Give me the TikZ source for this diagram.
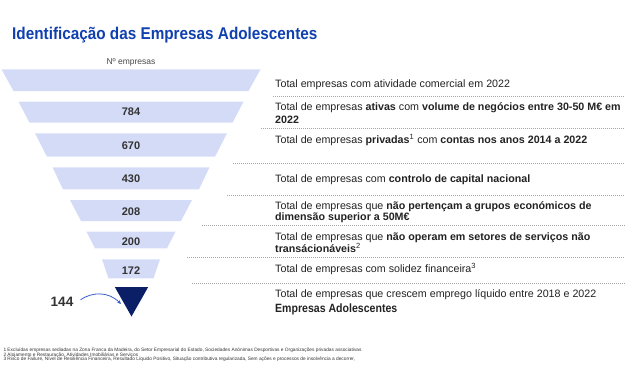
\documentclass[tikz,border=0pt]{standalone}
\usepackage{graphicx}
\usepackage{fontspec}
\setmainfont{Liberation Sans}
\usetikzlibrary{arrows.meta}
\definecolor{titleblue}{HTML}{1040B0}
\definecolor{funnelfill}{HTML}{D4DBF7}
\definecolor{navy}{HTML}{0B1F66}
\definecolor{arrowblue}{HTML}{3A5CC8}
\definecolor{bodytext}{HTML}{222222}
\definecolor{numtext}{HTML}{333333}
\tikzset{
  funnel/.style={fill=funnelfill, draw=none},
  numlabel/.style={font=\fontsize{11}{12}\selectfont\bfseries, text=numtext, inner sep=0pt},
  desc/.style={font=\fontsize{10.7}{12}\selectfont, text=bodytext, anchor=base west, inner sep=0pt},
  sep/.style={draw=gray!70, line width=0.6pt, dash pattern=on 1pt off 1pt},
  foot/.style={font=\fontsize{4.8}{5}\selectfont, text=numtext, anchor=base west, inner sep=0pt},
}
\begin{document}
\begin{tikzpicture}[x=1pt,y=-1pt]
\useasboundingbox (0,0) rectangle (643,370);
% title
\node[anchor=base west, inner sep=0pt, text=titleblue, font=\fontsize{17}{18}\selectfont\bfseries] (title) at (12,39) {\scalebox{0.9}[1]{Identificação das Empresas Adolescentes}};
\node[inner sep=0pt, text=numtext!90, font=\fontsize{8.5}{9}\selectfont] (hdr) at (131,62.7) {Nº empresas};
% funnel
\fill[funnel] (1.5,69.3) -- (260.5,69.3) -- (248.5,91) -- (13.5,91) -- cycle;
\fill[funnel] (18.5,101.7) -- (243.5,101.7) -- (232.5,122.7) -- (29.5,122.7) -- cycle;
\fill[funnel] (35,133.3) -- (227,133.3) -- (215,156.7) -- (47,156.7) -- cycle;
\fill[funnel] (52.5,167.3) -- (209.5,167.3) -- (199,189.3) -- (63,189.3) -- cycle;
\fill[funnel] (70,200) -- (192,200) -- (181,221) -- (81,221) -- cycle;
\fill[funnel] (86.5,231.7) -- (175.5,231.7) -- (167,248.3) -- (95,248.3) -- cycle;
\fill[funnel] (102,259.3) -- (160,259.3) -- (153.5,278.3) -- (108.5,278.3) -- cycle;
\fill[navy] (114.8,287) -- (148.2,287) -- (131.5,316.5) -- cycle;
\coordinate (tri) at (121,304);
% numbers
\node[numlabel] (n2) at (131,112.2) {784};
\node[numlabel] (n3) at (131,146) {670};
\node[numlabel] (n4) at (131,178.7) {430};
\node[numlabel] (n5) at (131,211.3) {208};
\node[numlabel] (n6) at (131,241.8) {200};
\node[numlabel] (n7) at (131,270.2) {172};
\node[inner sep=0pt, text=numtext, font=\fontsize{13.6}{14}\selectfont\bfseries] (n8) at (62,301.7) {144};
\draw[arrowblue, line width=0.8pt, -{Stealth[length=4pt,width=3.5pt]}] (n8.east) ++(7,-2) coordinate (as) (as) .. controls (92,292) and (108,291) .. (tri);
% separators
\draw[sep] (273,96) -- (625,96);
\draw[sep] (261,128.3) -- (625,128.3);
\draw[sep] (233,163.3) -- (625,163.3);
\draw[sep] (227,195.3) -- (625,195.3);
\draw[sep] (202,225) -- (625,225);
\draw[sep] (187,257.5) -- (625,257.5);
\draw[sep] (192,282.8) -- (625,282.8);
% descriptions
\node[desc] (t1) at (275,87.1) {Total empresas com atividade comercial em 2022};
\node[desc] (t2a) at (275,110.5) {Total de empresas \textbf{ativas} com \textbf{volume de negócios entre 30-50 M€ em}};
\node[desc] (t2b) at (275,123.1) {\textbf{2022}};
\node[desc] (t3) at (275,143.8) {Total de empresas \textbf{privadas}\textsuperscript{1} com \textbf{contas nos anos 2014 a 2022}};
\node[desc] (t4) at (275,182.1) {Total de empresas com \textbf{controlo de capital nacional}};
\node[desc] (t5a) at (275,209.5) {Total de empresas que \textbf{não pertençam a grupos económicos de}};
\node[desc] (t5b) at (275,220.5) {\textbf{dimensão superior a 50M€}};
\node[desc] (t6a) at (275,240.5) {Total de empresas que \textbf{não operam em setores de serviços não}};
\node[desc] (t6b) at (275,252.1) {\textbf{transácionáveis}\textsuperscript{2}};
\node[desc] (t7) at (275,272.1) {Total de empresas com solidez financeira\textsuperscript{3}};
\node[desc] (t8a) at (275,297.1) {Total de empresas que crescem emprego líquido entre 2018 e 2022};
\node[desc, font=\fontsize{12}{13}\selectfont\bfseries] (t8b) at (275,312.2) {\scalebox{0.88}[1]{Empresas Adolescentes}};
% footnotes
\node[foot] (f1) at (3.3,351) {1 Excluídas empresas sediadas na Zona Franca da Madeira, do Setor Empresarial do Estado, Sociedades Anónimas Desportivas e Organizações privadas associativas};
\node[foot] (f2) at (3.3,356) {2 Alojamento e Restauração, Atividades Imobiliárias e Serviços};
\node[foot] (f3) at (3.3,360.6) {3 Risco de Failure, Nível de Resiliência Financeira, Resultado Líquido Positivo,  Situação contributiva regularizada, Sem ações e processos de insolvência a decorrer,};
\end{tikzpicture}
\end{document}
